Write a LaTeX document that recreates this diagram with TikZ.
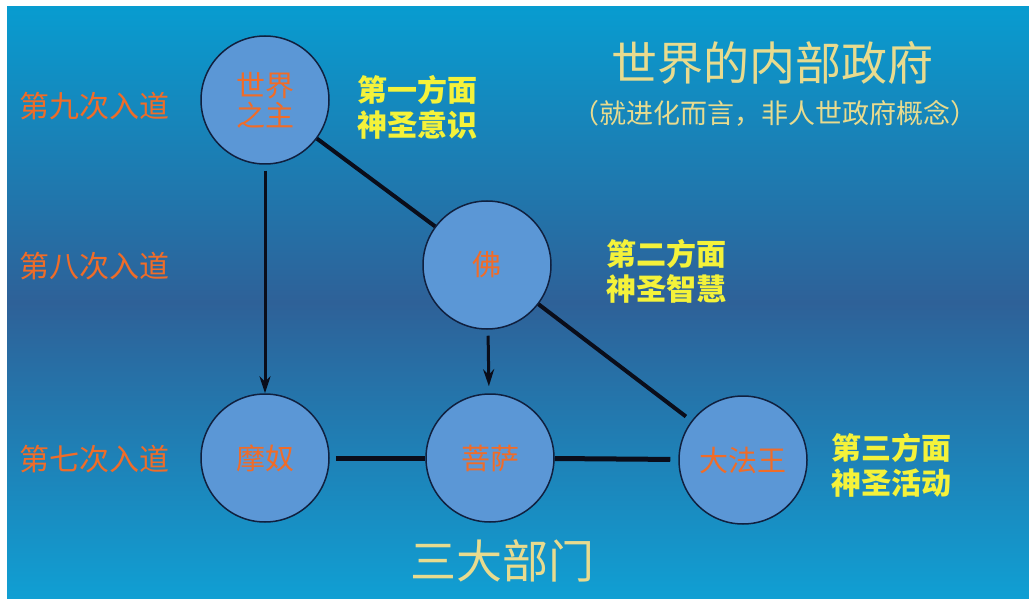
\documentclass[tikz,border=0pt]{standalone}
\usepackage{fontspec}
\newfontfamily\cjk{Noto Sans CJK SC}
\usetikzlibrary{arrows.meta,positioning}
\definecolor{SkyTop}{HTML}{089CD0}
\definecolor{SkyMid}{HTML}{2E6198}
\definecolor{SkyLow}{HTML}{109FD3}
\definecolor{Orb}{HTML}{5B97D6}
\definecolor{Navy}{HTML}{10203F}
\definecolor{Ink}{HTML}{0A0D1A}
\definecolor{Flame}{HTML}{F06C28}
\definecolor{Lemon}{HTML}{F4F23A}
\definecolor{Khaki}{HTML}{E8DB8E}
\tikzset{
  member/.style={
    circle, draw=Navy, line width=1.5pt, fill=Orb, minimum size=128pt,
    inner sep=0pt, text=Flame, align=center,
    font=\cjk\fontsize{29}{30}\selectfont
  },
  level/.style={anchor=west, text=Flame, font=\cjk\fontsize{30}{34}\selectfont},
  aspect/.style={
    anchor=west, text=Lemon, align=left,
    font=\cjk\bfseries\fontsize{30}{35}\selectfont
  },
  heading/.style={text=Khaki, font=\cjk\fontsize{46}{50}\selectfont},
  link/.style={line width=4pt, draw=Ink},
  bar/.style={line width=5pt, draw=Ink},
  descend/.style={-{Stealth[length=17pt,width=11pt]}, line width=3pt, draw=Ink}
}
\begin{document}
\begin{tikzpicture}[x=1pt,y=-1pt]
    \fill[white] (0,0) rectangle (1029,599);
    \useasboundingbox (0,0) rectangle (1029,599);
    \shade[top color=SkyTop, bottom color=SkyLow, middle color=SkyMid] (7,7) rectangle (1029,598);
    % the five members
    \node[member] (lord) at (265,100) {世界\\之主};
    \node[member] (fo) at (487,265) {佛};
    \node[member] (manu) at (265,458) {摩奴};
    \node[member] (pusa) at (490,458) {菩萨};
    \node[member] (dafa) at (743,460) {大法王};
    % initiations on the left
    \node[level] (ninth) at (16,106) {第九次入道};
    \node[level] (eighth) at (16,266) {第八次入道};
    \node[level] (seventh) at (16,459) {第七次入道};
    % aspects
    \node[aspect] (first) at (354,107) {第一方面\\神圣意识};
    \node[aspect] (second) at (603,271) {第二方面\\神圣智慧};
    \node[aspect] (third) at (828,465) {第三方面\\神圣活动};
    % titles
    \node[heading] (title) at (772,63) {世界的内部政府};
    \node[text=Khaki, font=\cjk\fontsize{27}{30}\selectfont] (note) at (775,113) {（就进化而言，非人世政府概念）};
    \node[heading] (branches) at (502,561) {三大部门};
    % connectors
    \draw[descend, shorten <=6pt] (lord) -- (manu);
    \draw[link] (lord) -- (fo);
    \draw[descend, shorten <=6pt, shorten >=7pt] (fo) -- (pusa);
    \draw[link, shorten >=7pt] (fo) -- (dafa);
    \draw[bar, shorten <=6pt] (manu) -- (pusa);
    \draw[bar, shorten >=8pt] (pusa) -- (dafa);
  \end{tikzpicture}
\end{document}
